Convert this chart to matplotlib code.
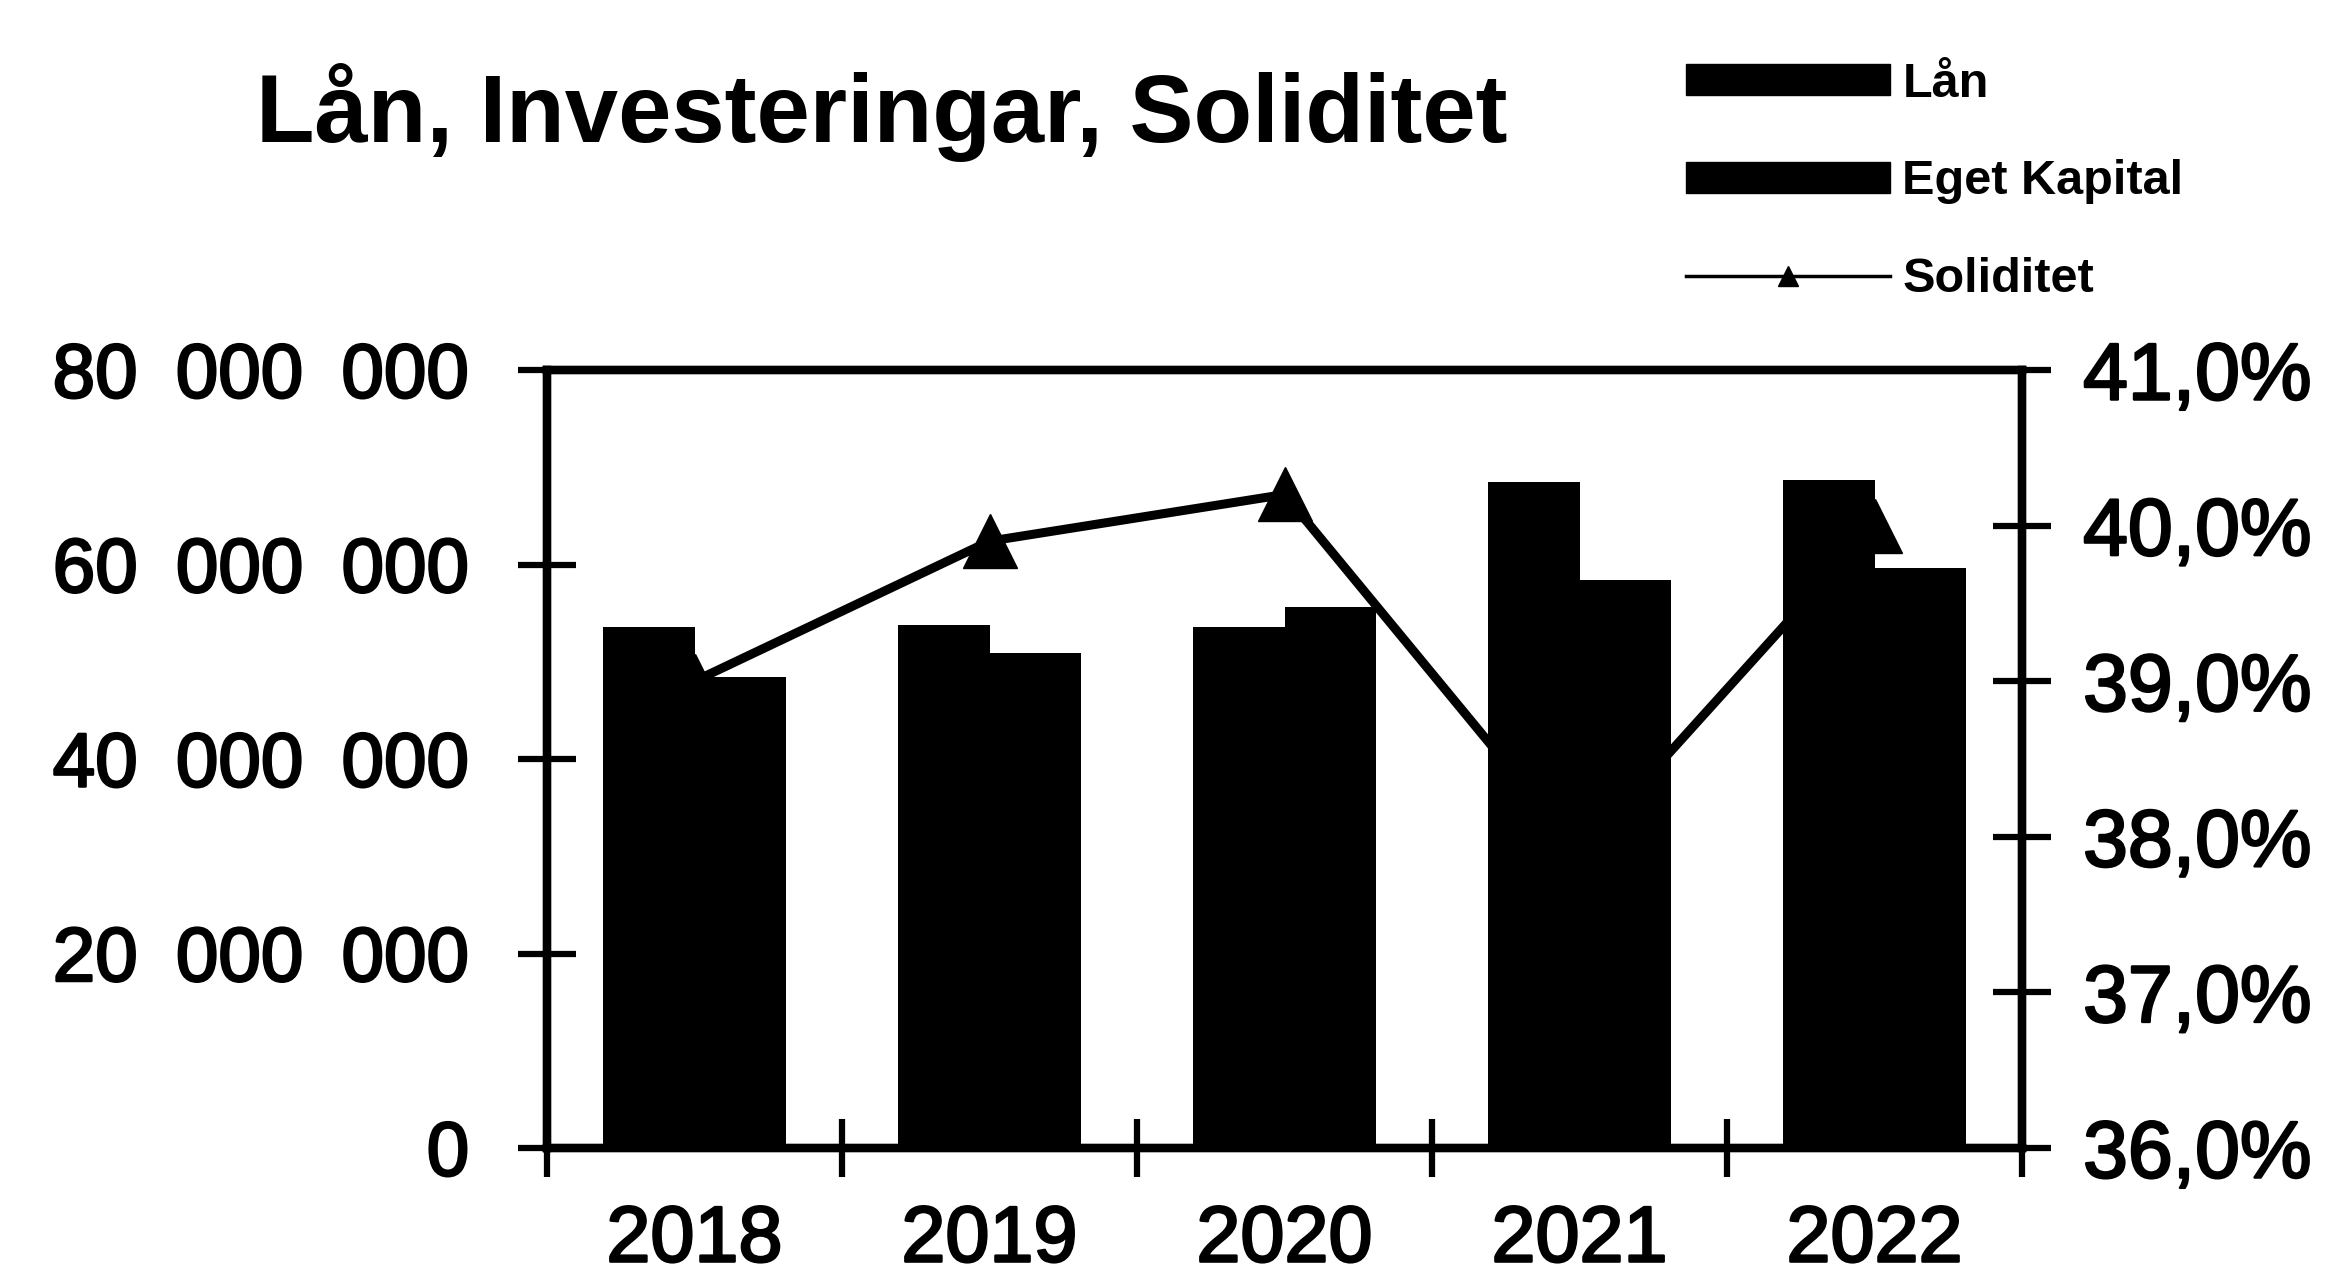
import matplotlib
matplotlib.use("Agg")
import matplotlib.pyplot as plt
import matplotlib.patheffects as pe
from matplotlib.lines import Line2D
from matplotlib.patches import Patch
from matplotlib.ticker import FuncFormatter, FixedLocator

# ---- data ----
years = ["2018", "2019", "2020", "2021", "2022"]
lan = [53.6e6, 53.8e6, 53.6e6, 68.5e6, 68.7e6]
eget_kapital = [48.4e6, 50.9e6, 55.6e6, 58.4e6, 59.6e6]
soliditet = [39.0, 39.9, 40.2, 37.9, 40.0]
left_ticks = [0, 20e6, 40e6, 60e6, 80e6]
right_ticks = [36, 37, 38, 39, 40, 41]
title = "Lån, Investeringar, Soliditet"
labels = ["Lån", "Eget Kapital", "Soliditet"]

plt.rcParams['font.family'] = ['Liberation Sans', 'DejaVu Sans']
thick = [pe.withStroke(linewidth=1.8, foreground='black')]

W, H = 2351, 1283
fig = plt.figure(figsize=(W / 100, H / 100), dpi=100)
fig.patch.set_facecolor('white')

L, R, T, B = 547, 2022, 370, 1148
ax = fig.add_axes([L / W, 1 - B / H, (R - L) / W, (B - T) / H])
ax2 = ax.twinx()

x = list(range(len(years)))
bw = 0.31
ax.bar([i - bw / 2 for i in x], lan, width=bw, color='black', zorder=2)
ax.bar([i + bw / 2 for i in x], eget_kapital, width=bw, color='black', zorder=2)

ax2.plot(x, soliditet, color='black', lw=6.5, marker='^', markersize=39,
         markerfacecolor='black', markeredgecolor='black', zorder=3)

ax.set_xlim(-0.5, len(years) - 0.5)
ax.set_ylim(0, 80e6)
ax2.set_ylim(36, 41)

# spines
for a in (ax, ax2):
    for s in a.spines.values():
        s.set_linewidth(6)
        s.set_color('black')

# left axis ticks
ax.yaxis.set_major_locator(FixedLocator(left_ticks))
ax.yaxis.set_major_formatter(FuncFormatter(
    lambda v, p: "{:,.0f}".format(v).replace(",", "\u2002")))
ax.tick_params(axis='y', direction='inout', length=42, width=4.5, pad=35,
               labelsize=55, colors='black')

# right axis ticks
ax2.yaxis.set_major_locator(FixedLocator(right_ticks))
ax2.yaxis.set_major_formatter(FuncFormatter(
    lambda v, p: "{:.1f}%".format(v).replace(".", ",")))
ax2.tick_params(axis='y', direction='inout', length=42, width=4.5, pad=23,
                labelsize=58, colors='black')

# x axis: labels at centers, tick marks at boundaries
ax.set_xticks(x)
ax.set_xticklabels(years)
ax.set_xticks([i - 0.5 for i in range(len(years) + 1)], minor=True)
ax.tick_params(axis='x', which='major', length=0, pad=40, labelsize=57)
ax.tick_params(axis='x', which='minor', direction='inout', length=42, width=4.5)

for lab in ax.get_xticklabels() + ax.get_yticklabels() + ax2.get_yticklabels():
    lab.set_path_effects(thick)

# title
fig.text(882 / W, 1 - 112 / H, title, ha='center', va='center',
         fontsize=69, fontweight='bold', color='black')

# legend
handles = [
    Patch(facecolor='black', edgecolor='black'),
    Patch(facecolor='black', edgecolor='black'),
    Line2D([0], [0], color='black', lw=2.5, marker='^', markersize=14),
]
leg = fig.legend(handles, labels, loc='upper left',
                 bbox_to_anchor=(1686 / W, 1 - 62 / H),
                 frameon=False, prop={'size': 35, 'weight': 'bold'},
                 handlelength=4.2, handleheight=0.6, handletextpad=0.25,
                 labelspacing=1.08, borderpad=0, borderaxespad=0)

fig.savefig("out.png", dpi=100, facecolor='white')
